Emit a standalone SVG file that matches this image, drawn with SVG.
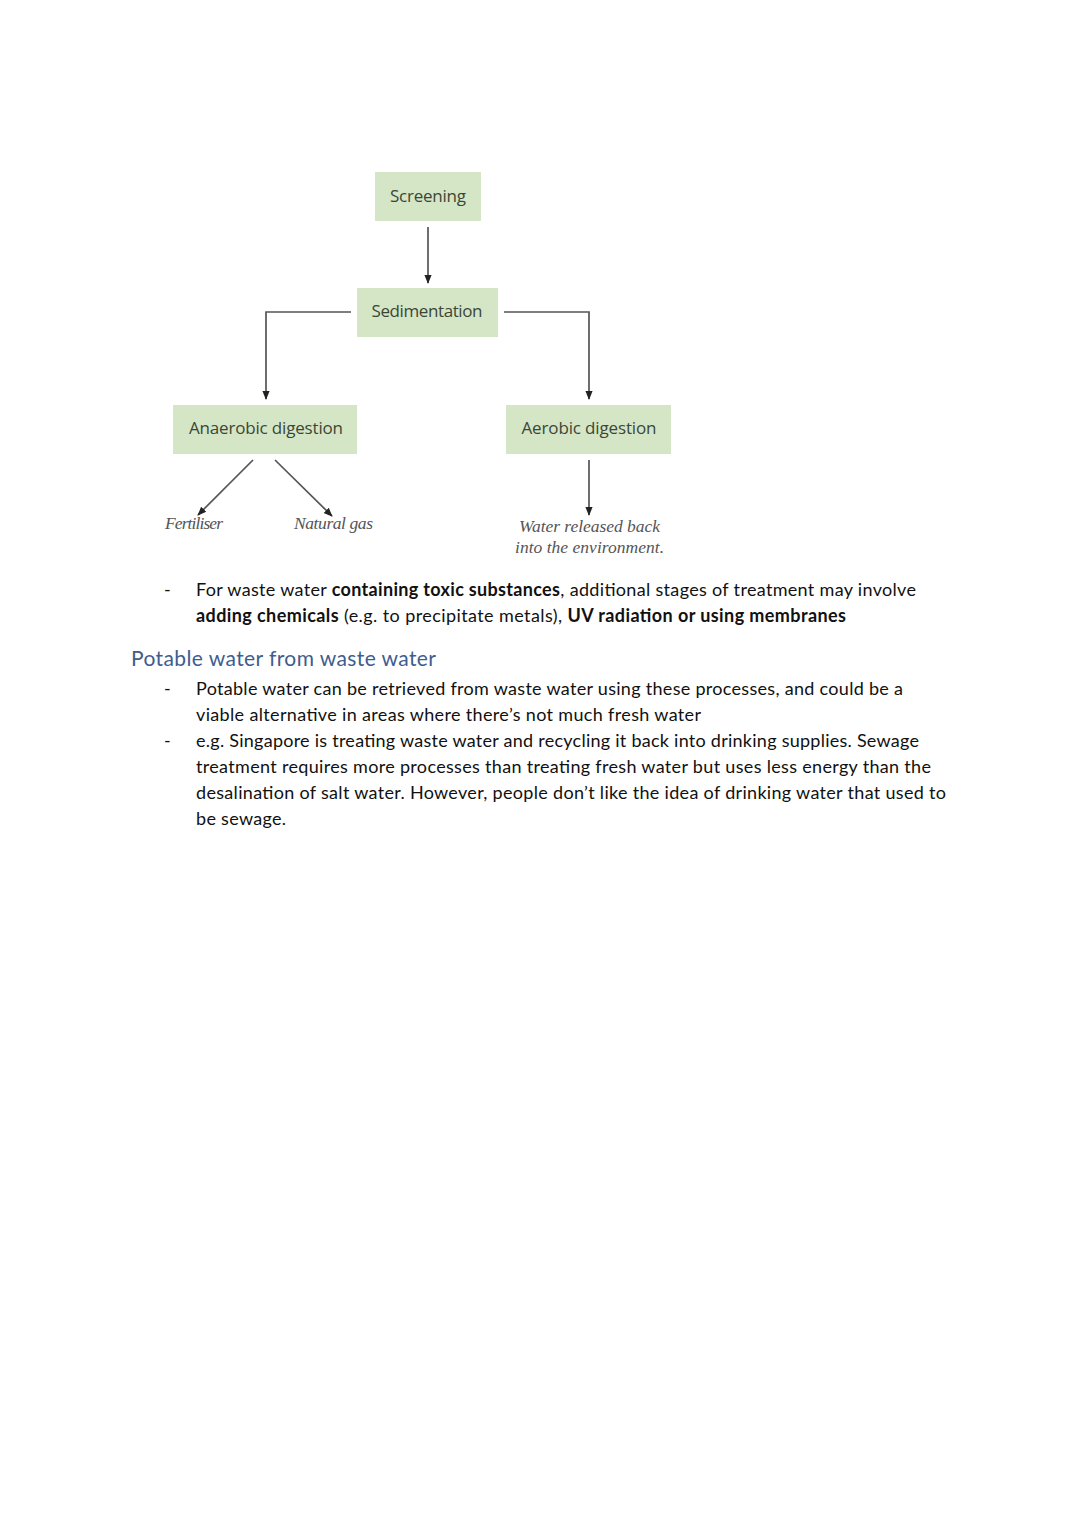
<svg xmlns="http://www.w3.org/2000/svg" width="1080" height="1527" viewBox="0 0 1080 1527">
<style>
.box{fill:#d5e6c6}
.bt{font-family:"Open Sans","DejaVu Sans",sans-serif;font-size:17px;fill:#3b4636;text-anchor:middle}
.lab{font-family:"Liberation Serif",serif;font-style:italic;font-size:17.5px;fill:#555}
.con{stroke:#555;stroke-width:1.7;fill:none}
.body{font-family:"Lato","Open Sans",sans-serif;font-size:18px;fill:#111}
.b{font-weight:bold}
.h{font-family:"Lato","Open Sans",sans-serif;font-size:21px;fill:#3e5d8e}
</style>
<defs>
<marker id="ah" viewBox="0 0 10 10" refX="9" refY="5" markerWidth="9" markerHeight="9" markerUnits="userSpaceOnUse" orient="auto">
<path d="M0,1 L10,5 L0,9 z" fill="#222"/>
</marker>
</defs>
<rect width="1080" height="1527" fill="#fff"/>
<g id="connectors">
<line class="con" x1="428" y1="227" x2="428" y2="283" marker-end="url(#ah)"/>
<polyline class="con" points="351,312 266,312 266,399" marker-end="url(#ah)"/>
<polyline class="con" points="504,312 589,312 589,399" marker-end="url(#ah)"/>
<line class="con" x1="253" y1="460" x2="198" y2="515" marker-end="url(#ah)"/>
<line class="con" x1="275" y1="460" x2="332" y2="516" marker-end="url(#ah)"/>
<line class="con" x1="589" y1="460" x2="589" y2="515" marker-end="url(#ah)"/>
</g>
<g id="screening"><rect class="box" x="375" y="172" width="106" height="49"/><text class="bt" x="428" y="202" textLength="76">Screening</text></g>
<g id="sedimentation"><rect class="box" x="357" y="288" width="141" height="49"/><text class="bt" x="427" y="317" textLength="111">Sedimentation</text></g>
<g id="anaerobic"><rect class="box" x="173" y="405" width="184" height="49"/><text class="bt" x="266" y="434" textLength="154">Anaerobic digestion</text></g>
<g id="aerobic"><rect class="box" x="506" y="405" width="165" height="49"/><text class="bt" x="589" y="434" textLength="135">Aerobic digestion</text></g>
<g id="fertiliser"><text class="lab" x="165" y="529" textLength="58">Fertiliser</text></g>
<g id="natural-gas"><text class="lab" x="294" y="529" textLength="79">Natural gas</text></g>
<g id="water-released"><text class="lab" x="519" y="532" textLength="141">Water released back</text><text class="lab" x="515" y="553" textLength="149">into the environment.</text></g>
<g id="text">
<text class="body" x="164" y="596">-</text>
<text class="body" x="196" y="596" textLength="720">For waste water <tspan class="b">containing toxic substances</tspan>, additional stages of treatment may involve</text>
<text class="body" x="196" y="622" textLength="650"><tspan class="b">adding chemicals</tspan> (e.g. to precipitate metals), <tspan class="b">UV radiation or using membranes</tspan></text>
<text class="h" x="131" y="666" textLength="305">Potable water from waste water</text>
<text class="body" x="164" y="695">-</text>
<text class="body" x="196" y="695" textLength="707">Potable water can be retrieved from waste water using these processes, and could be a</text>
<text class="body" x="196" y="721" textLength="505">viable alternative in areas where there’s not much fresh water</text>
<text class="body" x="164" y="747">-</text>
<text class="body" x="196" y="747" textLength="723">e.g. Singapore is treating waste water and recycling it back into drinking supplies. Sewage</text>
<text class="body" x="196" y="773" textLength="735">treatment requires more processes than treating fresh water but uses less energy than the</text>
<text class="body" x="196" y="799" textLength="750">desalination of salt water. However, people don’t like the idea of drinking water that used to</text>
<text class="body" x="196" y="825" textLength="90">be sewage.</text>
</g>
</svg>
